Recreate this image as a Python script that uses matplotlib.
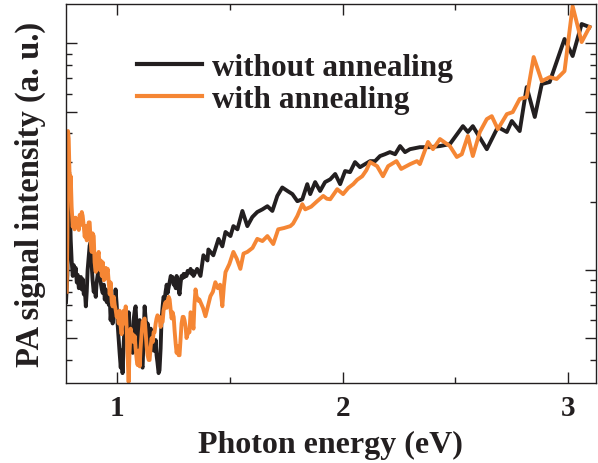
import numpy as np
import matplotlib
matplotlib.use("Agg")
import matplotlib.pyplot as plt
from matplotlib.ticker import FixedLocator, NullFormatter

plt.rcParams['font.family'] = ['Liberation Serif', 'DejaVu Serif']
plt.rcParams['font.weight'] = 'bold'
plt.rcParams['axes.labelweight'] = 'bold'

# photon energy (eV) and PA signal (a. u.)
energy_without = [
    0.772, 0.778, 0.783, 0.786, 0.789, 0.793, 0.797, 0.802, 0.806, 0.810,
    0.815, 0.820, 0.824, 0.829, 0.833, 0.838, 0.842, 0.846, 0.851, 0.855,
    0.860, 0.864, 0.868, 0.873, 0.877, 0.882, 0.886, 0.890, 0.895, 0.899,
    0.904, 0.908, 0.913, 0.918, 0.922, 0.926, 0.931, 0.935, 0.940, 0.944,
    0.949, 0.953, 0.957, 0.962, 0.966, 0.970, 0.975, 0.979, 0.984, 0.988,
    0.992, 0.997, 1.001, 1.006, 1.010, 1.015, 1.019, 1.023, 1.028, 1.032,
    1.037, 1.041, 1.045, 1.050, 1.054, 1.059, 1.063, 1.068, 1.072, 1.077,
    1.081, 1.086, 1.090, 1.094, 1.099, 1.103, 1.108, 1.112, 1.117, 1.121,
    1.126, 1.130, 1.134, 1.139, 1.143, 1.148, 1.152, 1.157, 1.161, 1.165,
    1.170, 1.174, 1.178, 1.183, 1.187, 1.192, 1.196, 1.201, 1.205, 1.210,
    1.214, 1.219, 1.223, 1.228, 1.232, 1.237, 1.241, 1.245, 1.250, 1.254,
    1.259, 1.263, 1.268, 1.272, 1.276, 1.281, 1.285, 1.290, 1.294, 1.298,
    1.303, 1.307, 1.312, 1.316, 1.320, 1.325, 1.330, 1.334, 1.338, 1.354,
    1.369, 1.382, 1.400, 1.404, 1.426, 1.449, 1.466, 1.480, 1.502, 1.515,
    1.533, 1.555, 1.577, 1.599, 1.621, 1.644, 1.666, 1.688, 1.710, 1.732,
    1.755, 1.777, 1.799, 1.821, 1.843, 1.856, 1.878, 1.900, 1.922, 1.945,
    1.967, 1.989, 2.011, 2.033, 2.055, 2.077, 2.100, 2.122, 2.144, 2.166,
    2.188, 2.210, 2.233, 2.255, 2.277, 2.299, 2.343, 2.388, 2.432, 2.476,
    2.534, 2.556, 2.578, 2.640, 2.689, 2.729, 2.751, 2.786, 2.817, 2.853,
    2.884, 2.919, 2.985, 3.021, 3.061, 3.096,
]
pa_without = [
    7.2, 9.5, 16, 27, 19, 13.5, 11, 9.4, 10.5, 9.6,
    10.2, 8.8, 9.5, 8.3, 8.5, 9.3, 8.2, 9.1, 7.8, 8.4,
    6.9, 8.0, 10.0, 11.5, 12.8, 13.3, 10.5, 9.0, 8.0, 8.5,
    7.6, 8.8, 9.6, 10.4, 9.9, 8.8, 8.2, 7.9, 8.6, 7.4,
    8.2, 7.2, 8.0, 7.0, 7.6, 6.0, 7.0, 5.8, 7.4, 6.8,
    8.2, 7.0, 5.8, 4.9, 4.3, 3.7, 4.4, 3.5, 4.7, 5.6,
    5.1, 6.4, 5.2, 6.5, 5.6, 4.8, 5.2, 4.3, 6.0, 6.6,
    6.9, 5.5, 4.5, 5.2, 6.0, 4.4, 3.8, 3.7, 5.3, 6.9,
    6.0, 5.0, 5.8, 4.8, 4.6, 5.5, 5.0, 4.5, 4.4, 4.4,
    4.9, 4.2, 3.9, 3.5, 3.6, 4.5, 6.0, 6.9, 7.6, 7.4,
    8.0, 8.6, 7.9, 8.4, 8.8, 9.4, 9.1, 9.3, 8.6, 9.0,
    8.3, 9.4, 9.1, 8.2, 7.8, 8.8, 9.4, 9.2, 9.6, 9.3,
    9.6, 9.4, 9.9, 9.7, 9.8, 10.1, 9.6, 9.9, 9.4, 10.1,
    9.4, 11.6, 11.0, 12.3, 11.6, 13.7, 12.7, 14.7, 14.1, 15.6,
    15.1, 18.2, 15.6, 17.1, 18.0, 18.5, 19.1, 18.2, 21.2, 23.1,
    22.3, 21.6, 20.1, 20.5, 23.9, 21.6, 24.4, 22.3, 24.4, 25.1,
    26.5, 23.9, 27.3, 27.0, 29.9, 28.4, 29.3, 30.2, 30.2, 31.8,
    32.4, 33.1, 32.4, 35.2, 33.1, 34.1, 34.8, 34.8, 35.2, 35.9,
    43.1, 40.6, 43.1, 34.1, 42.7, 40.6, 45.4, 41.0, 64.1, 47.3,
    66.1, 67.5, 104.5, 87.9, 121.7, 118.0,
]

energy_with = [
    0.775, 0.778, 0.781, 0.784, 0.787, 0.790, 0.793, 0.797, 0.802, 0.806,
    0.810, 0.815, 0.820, 0.824, 0.829, 0.833, 0.838, 0.842, 0.846, 0.851,
    0.855, 0.860, 0.864, 0.868, 0.873, 0.877, 0.882, 0.886, 0.890, 0.895,
    0.899, 0.904, 0.908, 0.913, 0.917, 0.922, 0.926, 0.931, 0.935, 0.940,
    0.944, 0.949, 0.953, 0.957, 0.962, 0.966, 0.970, 0.975, 0.979, 0.984,
    0.988, 0.992, 0.997, 1.001, 1.006, 1.010, 1.015, 1.019, 1.023, 1.028,
    1.032, 1.037, 1.041, 1.045, 1.050, 1.054, 1.059, 1.063, 1.068, 1.072,
    1.077, 1.081, 1.086, 1.090, 1.094, 1.099, 1.103, 1.108, 1.112, 1.117,
    1.121, 1.126, 1.130, 1.134, 1.139, 1.143, 1.148, 1.152, 1.157, 1.161,
    1.165, 1.170, 1.174, 1.178, 1.183, 1.187, 1.192, 1.196, 1.201, 1.205,
    1.210, 1.214, 1.219, 1.223, 1.228, 1.232, 1.237, 1.241, 1.245, 1.250,
    1.254, 1.259, 1.263, 1.268, 1.272, 1.276, 1.281, 1.285, 1.290, 1.294,
    1.298, 1.303, 1.307, 1.312, 1.316, 1.320, 1.325, 1.330, 1.334, 1.338,
    1.342, 1.347, 1.352, 1.356, 1.360, 1.364, 1.369, 1.380, 1.391, 1.402,
    1.413, 1.424, 1.435, 1.446, 1.456, 1.466, 1.473, 1.480, 1.497, 1.515,
    1.530, 1.546, 1.560, 1.577, 1.600, 1.621, 1.644, 1.666, 1.692, 1.714,
    1.740, 1.768, 1.780, 1.799, 1.821, 1.834, 1.860, 1.887, 1.914, 1.930,
    1.945, 1.976, 2.002, 2.025, 2.047, 2.065, 2.087, 2.105, 2.122, 2.153,
    2.179, 2.202, 2.239, 2.260, 2.300, 2.330, 2.343, 2.379, 2.401, 2.432,
    2.476, 2.507, 2.529, 2.556, 2.578, 2.609, 2.640, 2.662, 2.689, 2.729,
    2.755, 2.786, 2.817, 2.848, 2.884, 2.919, 2.950, 2.985, 3.021, 3.061,
    3.096,
]
pa_with = [
    8.0, 14, 41, 38, 28, 22, 25.9, 19, 15.5, 17,
    15.1, 17, 16.5, 16.7, 15.0, 17.5, 15.8, 18.0, 17.3, 15.5,
    14.0, 15.6, 13.5, 15.0, 16.2, 16.2, 13.0, 12.0, 14.5, 14.1,
    10.8, 9.8, 11.2, 11.5, 12.0, 10.0, 11.0, 9.4, 10.8, 9.0,
    9.1, 10.2, 9.6, 10.1, 8.7, 7.8, 8.8, 7.2, 6.9, 7.6,
    7.0, 6.7, 6.2, 6.5, 5.8, 6.6, 5.6, 5.2, 6.2, 6.6,
    5.8, 6.9, 5.6, 4.3, 3.2, 4.3, 5.5, 4.9, 5.2, 4.8,
    5.1, 4.5, 4.0, 3.8, 4.4, 3.75, 4.5, 5.3, 5.9, 6.0,
    6.1, 5.2, 4.6, 4.2, 4.0, 4.0, 4.6, 5.0, 4.8, 5.3,
    5.3, 5.8, 6.1, 6.3, 6.2, 6.2, 5.6, 5.9, 5.9, 6.6,
    7.0, 7.2, 6.8, 7.3, 7.6, 7.4, 6.6, 6.1, 6.5, 6.2,
    5.4, 4.7, 4.3, 4.6, 4.2, 4.2, 5.0, 5.8, 6.2, 6.2,
    6.0, 5.6, 5.0, 5.2, 5.4, 5.3, 6.5, 6.3, 5.8, 5.5,
    7.0, 8.2, 7.6, 7.5, 7.3, 7.4, 7.2, 6.8, 6.24, 6.9,
    7.65, 8.0, 8.82, 8.3, 8.6, 6.91, 8.5, 9.77, 10.6, 12.0,
    11.2, 10.1, 11.8, 12.0, 12.5, 13.7, 13.4, 14.1, 13.0, 15.1,
    15.3, 15.6, 16.0, 17.3, 19.5, 18.5, 19.0, 20.1, 21.2, 20.6,
    20.5, 22.7, 21.6, 23.0, 23.9, 25.0, 25.9, 27.5, 29.9, 28.7,
    25.9, 28.7, 30.2, 27.9, 29.3, 30.2, 29.3, 36.7, 34.1, 37.8,
    35.2, 31.5, 32.4, 39.0, 31.8, 40.6, 46.3, 47.7, 41.8, 48.7,
    49.7, 56.8, 57.9, 87.0, 68.1, 70.9, 69.6, 75.4, 146, 101.3,
    118.0,
]

y_major = [5, 10, 50, 100]
y_minor = [4, 6, 7, 8, 9, 20, 30, 40, 60, 70, 80, 90]
x_major = [1, 2, 3]
x_minor = [1.5, 2.5]

ink = '#231f20'
orange = '#f58634'

fig = plt.figure(figsize=(5.98, 4.64), dpi=100)
ax = fig.add_axes([0.110, 0.172, 0.886, 0.817])

ax.plot(energy_without, pa_without, color=ink, lw=2.8, label='without annealing')
ax.plot(energy_with, pa_with, color=orange, lw=2.8, label='with annealing')

ax.set_yscale('log')
ax.set_xlim(0.771, 3.123)
ax.set_ylim(3.16, 149)

ax.xaxis.set_major_locator(FixedLocator(x_major))
ax.xaxis.set_minor_locator(FixedLocator(x_minor))
ax.yaxis.set_major_locator(FixedLocator(y_major))
ax.yaxis.set_minor_locator(FixedLocator(y_minor))
ax.yaxis.set_major_formatter(NullFormatter())
ax.yaxis.set_minor_formatter(NullFormatter())
ax.set_xticklabels([str(v) for v in x_major])

ax.tick_params(which='both', direction='in', top=True, right=True,
               color=ink, width=1.0)
ax.tick_params(which='major', length=8)
ax.tick_params(which='minor', length=4)
ax.tick_params(axis='x', labelsize=21, pad=8, labelcolor=ink)
for sp in ax.spines.values():
    sp.set_color(ink)
    sp.set_linewidth(1.0)

ax.set_xlabel('Photon energy (eV)', fontsize=23, fontweight='bold', color=ink, labelpad=6)
ax.set_ylabel('PA signal intensity (a. u.)', fontsize=23.5, fontweight='bold', color=ink, labelpad=11)

leg = ax.legend(loc='upper left', bbox_to_anchor=(0.134, 0.872), frameon=False,
                fontsize=22.5, handlelength=2.1, handletextpad=0.3,
                labelspacing=0.1, borderpad=0, borderaxespad=0)
for t in leg.get_texts():
    t.set_color(ink)
for h in leg.get_lines():
    h.set_linewidth(3.0)

fig.savefig('out.png', dpi=100)
